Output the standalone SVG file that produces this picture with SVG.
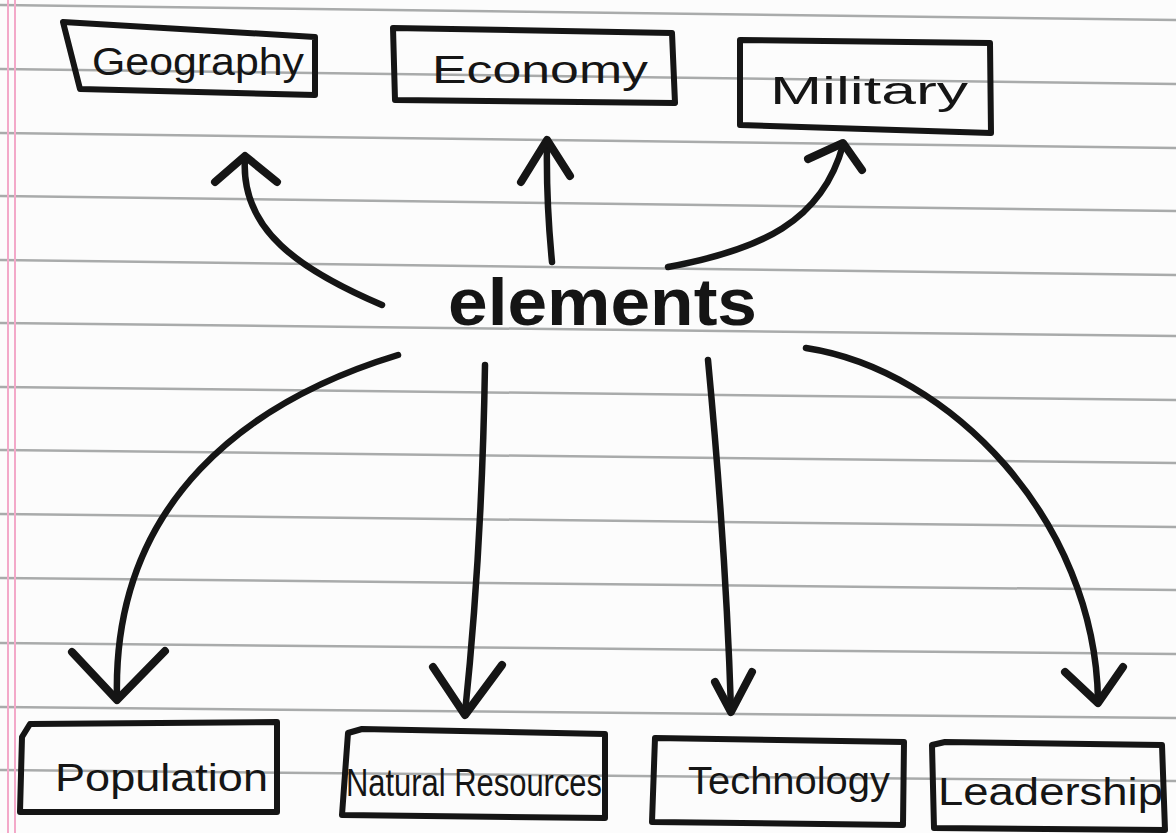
<svg xmlns="http://www.w3.org/2000/svg" width="1176" height="833" viewBox="0 0 1176 833">
<style>
.rule{stroke:#a9abab;stroke-width:2.5;fill:none}
.margin{stroke:#f3a9c9;stroke-width:2;fill:none}
.box{fill:none;stroke:#151515;stroke-width:6;stroke-linejoin:round;stroke-linecap:round}
.ink{fill:none;stroke:#151515;stroke-width:6.5;stroke-linecap:round;stroke-linejoin:round}
.head{fill:none;stroke:#151515;stroke-width:8;stroke-linecap:round;stroke-linejoin:round}
.lbl{font-family:"Liberation Sans","DejaVu Sans",sans-serif;font-size:38px;fill:#151515}
.big{font-family:"Liberation Sans","DejaVu Sans",sans-serif;font-size:66px;font-weight:bold;fill:#151515}
</style>
<rect width="1176" height="833" fill="#fcfcfc"/>
<g id="paper">
<path class="rule" d="M0,5 L1176,20"/>
<path class="rule" d="M0,69 L1176,84"/>
<path class="rule" d="M0,133 L1176,148"/>
<path class="rule" d="M0,196 L1176,211"/>
<path class="rule" d="M0,260 L1176,275"/>
<path class="rule" d="M0,323 L1176,336"/>
<path class="rule" d="M0,387 L1176,400"/>
<path class="rule" d="M0,450 L1176,463"/>
<path class="rule" d="M0,514 L1176,527"/>
<path class="rule" d="M0,578 L1176,590"/>
<path class="rule" d="M0,643 L1176,654"/>
<path class="rule" d="M0,707 L1176,718"/>
<path class="rule" d="M0,770 L1176,781"/>
<path class="margin" d="M8,0 L8,833"/>
<path class="margin" d="M15,0 L15,833"/>
</g>
<g id="connectors">
<path class="ink" d="M382,305 C300,270 240,230 245,158"/>
<path class="head" d="M215,182 L245,156 L277,182"/>
<path class="ink" d="M552,262 Q546,200 547,142"/>
<path class="head" d="M521,182 L547,140 L570,176"/>
<path class="ink" d="M668,267 C760,250 822,222 843,145"/>
<path class="head" d="M808,159 L843,143 L862,170"/>
<path class="ink" d="M398,355 C250,400 112,500 117,698"/>
<path class="head" d="M72,652 L117,700 L165,651"/>
<path class="ink" d="M485,365 Q482,550 465,713"/>
<path class="head" d="M433,667 L465,715 L502,665"/>
<path class="ink" d="M708,360 Q726,550 731,710"/>
<path class="head" d="M715,682 L731,712 L752,672"/>
<path class="ink" d="M806,348 C950,370 1095,520 1098,700"/>
<path class="head" d="M1065,672 L1098,703 L1123,667"/>
</g>
<g id="elements">
<text class="big" x="448" y="325" textLength="309" lengthAdjust="spacingAndGlyphs">elements</text>
</g>
<g id="geography">
<path class="box" d="M63,22 L315,37 L315,95 L80,89 Z"/>
<text class="lbl" x="92" y="75" textLength="212" lengthAdjust="spacingAndGlyphs">Geography</text>
</g>
<g id="economy">
<path class="box" d="M393,28 L672,33 L675,103 L395,100 Z"/>
<text class="lbl" x="432" y="83" textLength="216" lengthAdjust="spacingAndGlyphs">Economy</text>
</g>
<g id="military">
<path class="box" d="M740,40 L990,43 L991,133 L740,125 Z"/>
<text class="lbl" x="770" y="104" textLength="198" lengthAdjust="spacingAndGlyphs">Military</text>
</g>
<g id="population">
<path class="box" d="M22,737 L30,724 L277,722 L277,812 L20,812 Z"/>
<text class="lbl" x="55" y="791" textLength="213" lengthAdjust="spacingAndGlyphs">Population</text>
</g>
<g id="natural-resources">
<path class="box" d="M348,733 L362,729 L605,734 L605,818 L342,815 Z"/>
<text class="lbl" x="346" y="796" textLength="256" lengthAdjust="spacingAndGlyphs">Natural Resources</text>
</g>
<g id="technology">
<path class="box" d="M655,738 L904,742 L903,825 L652,822 Z"/>
<text class="lbl" x="688" y="794" textLength="202" lengthAdjust="spacingAndGlyphs">Technology</text>
</g>
<g id="leadership">
<path class="box" d="M932,745 L945,742 L1162,745 L1165,830 L934,828 Z"/>
<text class="lbl" x="938" y="805" textLength="225" lengthAdjust="spacingAndGlyphs">Leadership</text>
</g>
</svg>
